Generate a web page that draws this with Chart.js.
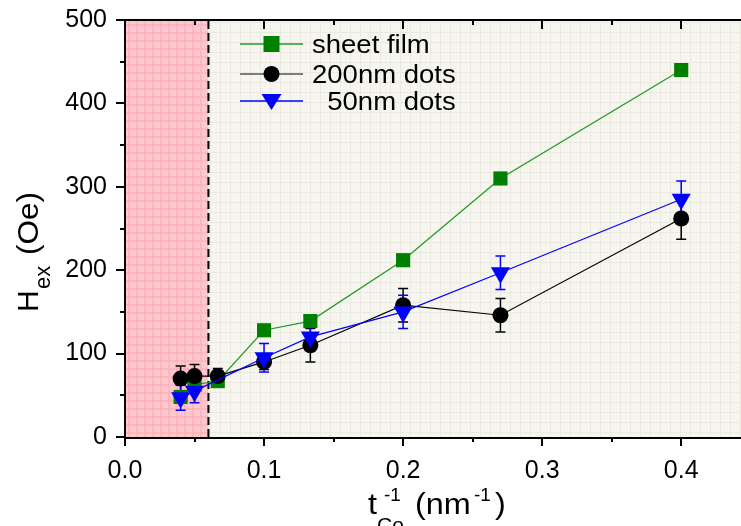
<!DOCTYPE html>
<html><head><meta charset="utf-8">
<script src="https://cdn.jsdelivr.net/npm/chart.js@4/dist/chart.umd.min.js"></script>
<style>html,body{margin:0;padding:0;background:#fff}#wrap{width:741px;height:526px;position:relative}</style>
</head><body><div id="wrap"><canvas id="c" width="741" height="526"></canvas></div>
<script>
// ---- data ----
const thickness = [0.04, 0.05, 0.0667, 0.1, 0.1333, 0.2, 0.27, 0.4];
const sheetFilm = [48, 63, 67, 128, 139, 212, 310, 440];
const dots200 = [70, 73, 73, 90, 110, 158, 146, 262];
const dots200Err = [15, 14, 9, 9, 20, 20, 20, 25];
const dots50 = [47, 55, null, 95, 120, 150, 197, 285];
const dots50Err = [15, 14, null, 17, 17, 20, 20, 22];
const xTicks = [0, 0.1, 0.2, 0.3, 0.4];
const xMinorTicks = [0.05, 0.15, 0.25, 0.35];
const yTicks = [0, 100, 200, 300, 400, 500];
const yMinorTicks = [50, 150, 250, 350, 450];
const seriesNames = ['sheet film', '200nm dots', '  50nm dots'];
const shadedMax = 0.06;

const FONT = "'Liberation Sans', Arial, Helvetica, sans-serif";
const GREEN = '#008000', GREEN_LINE = '#1f9a1f', BLUE = '#0000ff', BLACK = '#000000';

function pts(arr) { return thickness.map((x, i) => ({ x: x, y: arr[i] })); }
function noLig(s) { return s.replace(/fi/g, 'f\u200Ci').replace(/fl/g, 'f\u200Cl'); }

const bgPlugin = {
  id: 'bg',
  beforeDatasetsDraw(chart) {
    const { ctx, chartArea: a, scales: { x } } = chart;
    ctx.save();
    ctx.fillStyle = '#f6f5ef';
    ctx.fillRect(a.left, a.top, a.right - a.left, a.bottom - a.top);
    ctx.strokeStyle = '#ebeae0'; ctx.lineWidth = 1;
    ctx.beginPath();
    for (let px = a.left + 5; px < a.right; px += 10) { ctx.moveTo(px + 0.5, a.top); ctx.lineTo(px + 0.5, a.bottom); }
    for (let py = a.bottom - 5; py > a.top; py -= 10) { ctx.moveTo(a.left, py + 0.5); ctx.lineTo(a.right, py + 0.5); }
    ctx.stroke();
    const xs = x.getPixelForValue(shadedMax);
    ctx.fillStyle = '#ffc8cf';
    ctx.fillRect(a.left, a.top, xs - a.left, a.bottom - a.top);
    ctx.strokeStyle = '#ffb0bb'; ctx.lineWidth = 1.5;
    ctx.beginPath();
    for (let px = a.left + 4; px < xs; px += 8) { ctx.moveTo(px, a.top); ctx.lineTo(px, a.bottom); }
    for (let py = a.bottom - 4; py > a.top; py -= 8) { ctx.moveTo(a.left, py); ctx.lineTo(xs, py); }
    ctx.stroke();
    // dashed boundary
    ctx.strokeStyle = '#000'; ctx.lineWidth = 2; ctx.setLineDash([8, 4]);
    ctx.beginPath(); ctx.moveTo(xs, a.bottom); ctx.lineTo(xs, a.top); ctx.stroke();
    ctx.setLineDash([]);
    // error bars
    const y = chart.scales.y;
    const drawErr = (vals, errs, color) => {
      ctx.strokeStyle = color; ctx.lineWidth = 1.5;
      vals.forEach((v, i) => {
        if (v == null || errs[i] == null) return;
        const px = x.getPixelForValue(thickness[i]);
        const t = y.getPixelForValue(v + errs[i]), b = y.getPixelForValue(v - errs[i]);
        ctx.beginPath();
        ctx.moveTo(px, t); ctx.lineTo(px, b);
        ctx.moveTo(px - 5, t); ctx.lineTo(px + 5, t);
        ctx.moveTo(px - 5, b); ctx.lineTo(px + 5, b);
        ctx.stroke();
      });
    };
    drawErr(dots200, dots200Err, BLACK);
    drawErr(dots50, dots50Err, BLUE);
    ctx.restore();
  },
  afterDatasetsDraw(chart) {
    const { ctx, chartArea: a, scales: { x, y } } = chart;
    ctx.save();
    ctx.strokeStyle = '#000'; ctx.lineWidth = 2;
    ctx.beginPath();
    ctx.moveTo(a.left, a.top); ctx.lineTo(a.left, a.bottom + 1); ctx.lineTo(a.right, a.bottom + 1);
    ctx.moveTo(a.left, a.top); ctx.lineTo(a.right, a.top);
    xTicks.forEach(v => { const p = Math.round(x.getPixelForValue(v)); ctx.moveTo(p, a.bottom); ctx.lineTo(p, a.bottom + 9); ctx.moveTo(p, a.top); ctx.lineTo(p, a.top + 9); });
    xMinorTicks.forEach(v => { const p = Math.round(x.getPixelForValue(v)); ctx.moveTo(p, a.bottom); ctx.lineTo(p, a.bottom + 5); ctx.moveTo(p, a.top); ctx.lineTo(p, a.top + 5); });
    yTicks.forEach(v => { const p = Math.round(y.getPixelForValue(v)); ctx.moveTo(a.left, p); ctx.lineTo(a.left - 9, p); });
    yMinorTicks.forEach(v => { const p = Math.round(y.getPixelForValue(v)); ctx.moveTo(a.left, p); ctx.lineTo(a.left - 5, p); });
    ctx.stroke();
    ctx.restore();
  },
  afterDraw(chart) {
    const ctx = chart.ctx;
    ctx.save();
    ctx.fillStyle = '#000';
    ctx.textBaseline = 'alphabetic'; ctx.textAlign = 'left';
    // legend
    const rows = [44, 74, 101];
    const lineCols = [GREEN_LINE, '#555555', BLUE];
    rows.forEach((cy, i) => {
      ctx.strokeStyle = lineCols[i]; ctx.lineWidth = 1.5;
      ctx.beginPath(); ctx.moveTo(240, cy); ctx.lineTo(303, cy); ctx.stroke();
      const mx = 271.5;
      if (i === 0) { ctx.fillStyle = GREEN; ctx.fillRect(mx - 8, cy - 8, 16, 16); }
      else if (i === 1) { ctx.fillStyle = BLACK; ctx.beginPath(); ctx.arc(mx, cy, 8, 0, Math.PI * 2); ctx.fill(); }
      else { ctx.fillStyle = BLUE; ctx.beginPath(); ctx.moveTo(mx - 10, cy - 7); ctx.lineTo(mx + 10, cy - 7); ctx.lineTo(mx, cy + 9); ctx.closePath(); ctx.fill(); }
      ctx.fillStyle = '#000';
      ctx.font = '25px ' + FONT;
      ctx.save(); ctx.translate(312, cy + 9); ctx.scale(1.1, 1);
      ctx.fillText(noLig(seriesNames[i]), 0, 0); ctx.restore();
    });
    // x title
    const sx = (txt, px, py, size, k) => {
      ctx.save(); ctx.font = size + 'px ' + FONT; ctx.translate(px, py); ctx.scale(k, 1); ctx.fillText(txt, 0, 0); ctx.restore();
    };
    sx('t', 368, 514, 30, 1.08);
    sx('-1', 384, 501, 18, 1.05);
    sx('Co', 377, 532, 20, 1.05);
    sx('(nm', 415, 514, 30, 1.08);
    sx('-1', 474, 501, 18, 1.05);
    sx(')', 495, 514, 30, 1.08);
    // y title
    ctx.translate(38, 312); ctx.rotate(-Math.PI / 2);
    sx('H', 0, 0, 30, 1.0);
    sx('(Oe)', 57, 0, 30, 1.05);
    sx('ex', 23, 12, 22, 1.0);
    ctx.restore();
  }
};

Chart.defaults.font.family = FONT;
Chart.defaults.color = '#000';

new Chart(document.getElementById('c'), {
  type: 'line',
  data: {
    datasets: [
      { label: seriesNames[0], data: pts(sheetFilm), borderColor: GREEN_LINE, borderWidth: 1.2,
        pointStyle: 'rect', pointRadius: 10, pointBackgroundColor: GREEN, pointBorderColor: GREEN, pointBorderWidth: 0, order: 3 },
      { label: seriesNames[1], data: pts(dots200), borderColor: BLACK, borderWidth: 1.2,
        pointStyle: 'circle', pointRadius: 8, pointBackgroundColor: BLACK, pointBorderColor: BLACK, pointBorderWidth: 0, order: 2 },
      { label: seriesNames[2], data: pts(dots50), borderColor: BLUE, borderWidth: 1.2, spanGaps: true,
        pointStyle: 'triangle', pointRotation: 180, pointRadius: 11, pointBackgroundColor: BLUE, pointBorderColor: BLUE, pointBorderWidth: 0, order: 1 }
    ]
  },
  options: {
    responsive: false, animation: false, devicePixelRatio: 1,
    layout: { autoPadding: false, padding: { top: 20, right: 0, bottom: 0, left: 0 } },
    plugins: { legend: { display: false }, tooltip: { enabled: false } },
    scales: {
      x: {
        type: 'linear', min: 0, max: 0.443,
        grid: { display: false, drawTicks: false }, border: { display: false },
        afterBuildTicks: s => { s.ticks = xTicks.map(v => ({ value: v })); },
        ticks: { padding: 19, font: { size: 25 }, color: '#000', maxRotation: 0, autoSkip: false, callback: v => v.toFixed(1) },
        afterFit: s => { s.height = 89; s.paddingLeft = 0; s.paddingRight = 0; }
      },
      y: {
        type: 'linear', min: 0, max: 500,
        grid: { display: false, drawTicks: false }, border: { display: false },
        afterBuildTicks: s => { s.ticks = yTicks.map(v => ({ value: v })); },
        ticks: { padding: 18, font: { size: 25 }, color: '#000', callback: v => String(v) },
        afterFit: s => { s.width = 125; s.paddingTop = 0; s.paddingBottom = 0; }
      }
    }
  },
  plugins: [bgPlugin]
});
</script>
</body></html>
